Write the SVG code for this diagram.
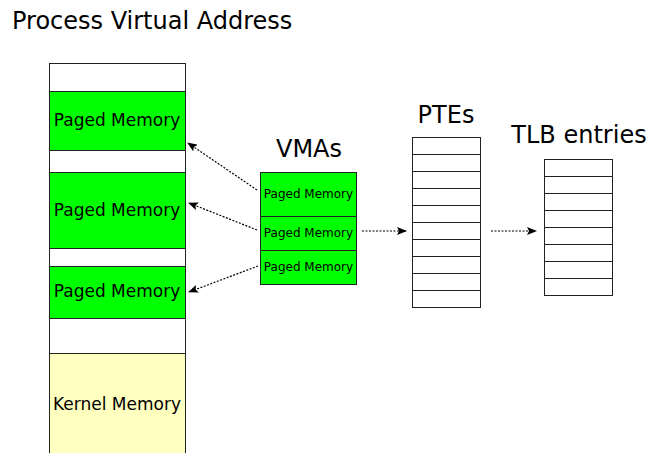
<svg xmlns="http://www.w3.org/2000/svg" width="646" height="453" viewBox="0 0 646 453">
<defs>
<marker id="ah" markerWidth="10" markerHeight="8" refX="9" refY="4" orient="auto" markerUnits="userSpaceOnUse">
<path d="M0,0 L10,4 L0,8 L2,4 Z" fill="#000"/>
</marker>
<style>
.w{fill:#fff;stroke:#222;stroke-width:1}
.g{fill:#00ff00;stroke:#222;stroke-width:1}
.y{fill:#ffffc0;stroke:#222;stroke-width:1}
.t{font-family:"DejaVu Sans",sans-serif;fill:#000}
.c{stroke:#000;stroke-width:1.2;stroke-dasharray:2,1.5;fill:none;marker-end:url(#ah)}
</style>
</defs>
<rect width="646" height="453" fill="#fff"/>
<text class="t" x="12" y="29" font-size="24">Process Virtual Address</text>
<g id="address-space">
<rect class="w" x="49.5" y="63.5" width="136" height="28"/>
<rect class="g" x="49.5" y="91.5" width="136" height="59"/>
<rect class="w" x="49.5" y="150.5" width="136" height="22"/>
<rect class="g" x="49.5" y="172.5" width="136" height="76"/>
<rect class="w" x="49.5" y="248.5" width="136" height="18"/>
<rect class="g" x="49.5" y="266.5" width="136" height="52"/>
<rect class="w" x="49.5" y="318.5" width="136" height="35"/>
<rect class="y" x="49.5" y="353.5" width="136" height="110"/>
<text class="t" x="117" y="126" font-size="17" text-anchor="middle">Paged Memory</text>
<text class="t" x="117" y="216" font-size="17" text-anchor="middle">Paged Memory</text>
<text class="t" x="117" y="297" font-size="17" text-anchor="middle">Paged Memory</text>
<text class="t" x="117" y="410" font-size="17" text-anchor="middle">Kernel Memory</text>
</g>
<g id="vmas">
<text class="t" x="309" y="157" font-size="24" text-anchor="middle">VMAs</text>
<rect class="g" x="260.5" y="172.5" width="96" height="44"/>
<rect class="g" x="260.5" y="216.5" width="96" height="34"/>
<rect class="g" x="260.5" y="250.5" width="96" height="34"/>
<text class="t" x="308.5" y="198" font-size="12" text-anchor="middle">Paged Memory</text>
<text class="t" x="308.5" y="237" font-size="12" text-anchor="middle">Paged Memory</text>
<text class="t" x="308.5" y="271" font-size="12" text-anchor="middle">Paged Memory</text>
</g>
<g id="ptes">
<text class="t" x="446" y="123" font-size="24" text-anchor="middle">PTEs</text>
<rect class="w" x="412.5" y="137.5" width="68" height="17"/>
<rect class="w" x="412.5" y="154.5" width="68" height="17"/>
<rect class="w" x="412.5" y="171.5" width="68" height="17"/>
<rect class="w" x="412.5" y="188.5" width="68" height="17"/>
<rect class="w" x="412.5" y="205.5" width="68" height="17"/>
<rect class="w" x="412.5" y="222.5" width="68" height="17"/>
<rect class="w" x="412.5" y="239.5" width="68" height="17"/>
<rect class="w" x="412.5" y="256.5" width="68" height="17"/>
<rect class="w" x="412.5" y="273.5" width="68" height="17"/>
<rect class="w" x="412.5" y="290.5" width="68" height="17"/>
</g>
<g id="tlb">
<text class="t" x="579" y="143" font-size="24" text-anchor="middle">TLB entries</text>
<rect class="w" x="544.5" y="159.5" width="68" height="17"/>
<rect class="w" x="544.5" y="176.5" width="68" height="17"/>
<rect class="w" x="544.5" y="193.5" width="68" height="17"/>
<rect class="w" x="544.5" y="210.5" width="68" height="17"/>
<rect class="w" x="544.5" y="227.5" width="68" height="17"/>
<rect class="w" x="544.5" y="244.5" width="68" height="17"/>
<rect class="w" x="544.5" y="261.5" width="68" height="17"/>
<rect class="w" x="544.5" y="278.5" width="68" height="17"/>
</g>
<g id="connectors">
<line class="c" x1="257" y1="190" x2="188" y2="143"/>
<line class="c" x1="257" y1="230" x2="189" y2="203"/>
<line class="c" x1="258" y1="266" x2="189" y2="292"/>
<line class="c" x1="362" y1="231" x2="406" y2="231"/>
<line class="c" x1="491" y1="231" x2="536" y2="231"/>
</g>
</svg>
